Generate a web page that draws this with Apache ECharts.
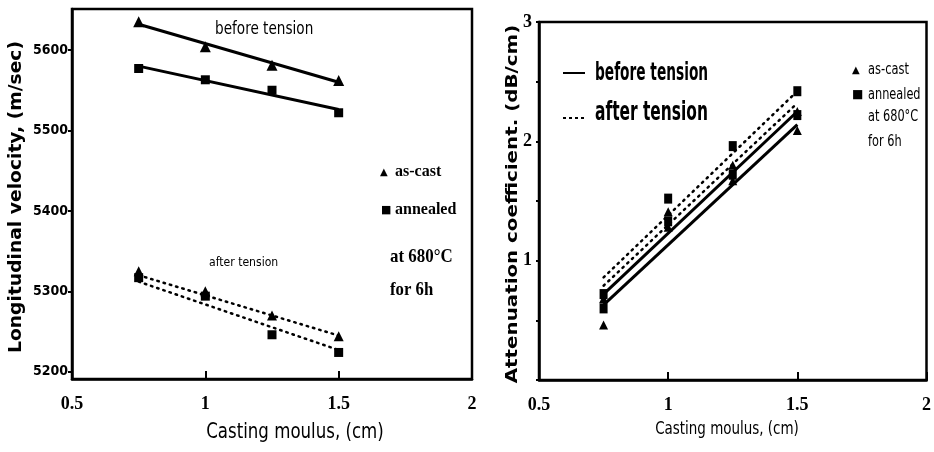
<!DOCTYPE html>
<html>
<head>
<meta charset="utf-8">
<script src="https://cdn.jsdelivr.net/npm/echarts@6/dist/echarts.min.js"></script>
<style>
  html, body { margin: 0; padding: 0; background: #fff; }
  #chart { width: 934px; height: 452px; }
</style>
</head>
<body>
<div id="chart"></div>
<script>
// left panel: longitudinal velocity (m/sec)
const velBeforeCast = [[0.75, 5635], [1, 5604], [1.25, 5581], [1.5, 5562]]
const velBeforeAnnealed = [[0.75, 5577], [1, 5563], [1.25, 5550], [1.5, 5522]]
const velAfterCast = [[0.75, 5325], [1, 5300], [1.25, 5270], [1.5, 5244]]
const velAfterAnnealed = [[0.75, 5317], [1, 5294], [1.25, 5246], [1.5, 5224]]
const velFitBeforeCast = [[0.75, 5632], [1.5, 5560]]
const velFitBeforeAnnealed = [[0.75, 5580], [1.5, 5526]]
const velFitAfterCast = [[0.75, 5320], [1.5, 5245]]
const velFitAfterAnnealed = [[0.75, 5312], [1.5, 5227]]
const velTicks = [5200, 5300, 5400, 5500, 5600]

// right panel: attenuation coefficient (dB/cm)
const attBeforeCast = [[0.75, 0.46], [1, 1.28], [1.25, 1.67], [1.5, 2.09]]
const attAfterCast = [[0.75, 0.68], [1, 1.41], [1.25, 1.80], [1.5, 2.25]]
const attBeforeAnnealed = [[0.75, 0.60], [1, 1.33], [1.25, 1.72], [1.5, 2.22]]
const attAfterAnnealed = [[0.75, 0.72], [1, 1.52], [1.25, 1.96], [1.5, 2.42]]
const attFitBeforeCast = [[0.75, 0.63], [1.5, 2.14]]
const attFitBeforeAnnealed = [[0.75, 0.72], [1.5, 2.25]]
const attFitAfterCast = [[0.75, 0.79], [1.5, 2.32]]
const attFitAfterAnnealed = [[0.75, 0.86], [1.5, 2.42]]
const attTicks = [1, 2, 3]

const narrow = '"DejaVu Sans Condensed", "Liberation Sans", sans-serif'
const serif = '"Liberation Serif", serif'
const heavy = '"DejaVu Sans", sans-serif'

const chart = echarts.init(document.getElementById('chart'))

function fitLine(data, grid, dotted) {
  return {
    type: 'line',
    xAxisIndex: grid,
    yAxisIndex: grid,
    data,
    symbol: 'none',
    silent: true,
    lineStyle: {
      color: '#000',
      opacity: 1,
      width: dotted ? 2.5 : 3,
      type: dotted ? [1.5, 5] : 'solid',
      cap: dotted ? 'round' : 'butt',
    },
    z: 2,
  }
}

function marks(data, grid, shape, size) {
  return {
    type: 'scatter',
    xAxisIndex: grid,
    yAxisIndex: grid,
    data,
    symbol: shape,
    symbolSize: size,
    itemStyle: { color: '#000', opacity: 1 },
    z: 3,
  }
}

function xAxisOf(grid) {
  return {
    type: 'value',
    gridIndex: grid,
    min: 0.5,
    max: 2,
    interval: 0.5,
    axisLine: { show: true, lineStyle: { color: '#000', width: 2.5 } },
    axisTick: { show: true, inside: true, length: 8, lineStyle: { color: '#000', width: 2 } },
    axisLabel: {
      color: '#000',
      fontFamily: serif,
      fontWeight: 'bold',
      fontSize: 18,
      margin: 16,
      showMaxLabel: true,
      formatter: v => String(v),
    },
    splitLine: { show: false },
  }
}

// free text placed by its left edge (or centre) and vertical middle
function txt(x, y, text, font, sx = 1, align = 'left', rotation = 0) {
  return {
    type: 'text',
    x,
    y,
    rotation,
    scaleX: sx,
    style: { text, font, fill: '#000', align, verticalAlign: 'middle' },
  }
}

chart.setOption({
  animation: false,
  grid: [
    { left: 72, top: 9, width: 400, height: 370, show: true, borderColor: '#000', borderWidth: 2.5 },
    { left: 539, top: 22, width: 396, height: 358, show: true, borderColor: '#000', borderWidth: 2.5 },
  ],
  xAxis: [xAxisOf(0), xAxisOf(1)],
  yAxis: [
    {
      type: 'value',
      gridIndex: 0,
      min: 5191,
      max: 5651,
      axisLine: { show: true, lineStyle: { color: '#000', width: 2.5 } },
      axisTick: { show: true, length: 4, customValues: velTicks, lineStyle: { color: '#000', width: 2 } },
      axisLabel: {
        color: '#000',
        fontFamily: narrow,
        fontWeight: 'bold',
        fontSize: 14,
        margin: 4,
        customValues: velTicks,
        formatter: v => String(v),
      },
      splitLine: { show: false },
    },
    {
      type: 'value',
      gridIndex: 1,
      min: 0,
      max: 3,
      interval: 0.5,
      axisLine: { show: true, lineStyle: { color: '#000', width: 2.5 } },
      axisTick: { show: true, length: 3, lineStyle: { color: '#000', width: 2 } },
      axisLabel: {
        color: '#000',
        fontFamily: serif,
        fontWeight: 'bold',
        fontSize: 18,
        margin: 7,
        showMaxLabel: true,
        customValues: attTicks,
      },
      splitLine: { show: false },
    },
  ],
  series: [
    fitLine(velFitBeforeCast, 0, false),
    fitLine(velFitBeforeAnnealed, 0, false),
    fitLine(velFitAfterCast, 0, true),
    fitLine(velFitAfterAnnealed, 0, true),
    marks(velBeforeCast, 0, 'triangle', 11),
    marks(velBeforeAnnealed, 0, 'rect', 9),
    marks(velAfterCast, 0, 'triangle', 10),
    marks(velAfterAnnealed, 0, 'rect', 9),

    fitLine(attFitBeforeCast, 1, false),
    fitLine(attFitBeforeAnnealed, 1, false),
    fitLine(attFitAfterCast, 1, true),
    fitLine(attFitAfterAnnealed, 1, true),
    marks(attBeforeCast, 1, 'triangle', 9),
    marks(attAfterCast, 1, 'triangle', 9),
    marks(attBeforeAnnealed, 1, 'rect', [8, 10]),
    marks(attAfterAnnealed, 1, 'rect', [8, 10]),
  ],
  graphic: [
    // axis titles
    txt(295, 433, 'Casting moulus, (cm)', `21px ${narrow}`, 0.88, 'center'),
    txt(727, 430, 'Casting moulus, (cm)', `17px ${narrow}`, 0.88, 'center'),
    txt(17, 197, 'Longitudinal velocity, (m/sec)', `bold 17px ${heavy}`, 1.1, 'center', Math.PI / 2),
    txt(513, 204, 'Attenuation coefficient. (dB/cm)', `bold 16px ${heavy}`, 1.24, 'center', Math.PI / 2),

    // left panel annotations
    txt(215, 30, 'before tension', `17px ${narrow}`, 0.89),
    txt(209, 263, 'after tension', `13px ${narrow}`, 0.93),
    txt(380, 172, '▲', `10px ${heavy}`),
    txt(395, 172, 'as-cast', `bold 16px ${serif}`),
    txt(381, 210, '■', `11px ${heavy}`),
    txt(395, 210, 'annealed', `bold 16px ${serif}`),
    txt(390, 257, 'at 680°C', `bold 19px ${serif}`, 0.89),
    txt(390, 290, 'for 6h', `bold 19px ${serif}`, 0.88),

    // right panel legend
    { type: 'line', shape: { x1: 563, y1: 73, x2: 585, y2: 73 }, style: { stroke: '#000', lineWidth: 2 } },
    txt(595, 73, 'before tension', `bold 25px ${narrow}`, 0.61),
    { type: 'line', shape: { x1: 563, y1: 118, x2: 585, y2: 118 }, style: { stroke: '#000', lineWidth: 2, lineDash: [3, 3] } },
    txt(595, 113, 'after tension', `bold 26px ${narrow}`, 0.66),
    txt(852, 70, '▲', `10px ${heavy}`),
    txt(868, 70, 'as-cast', `15px ${narrow}`, 0.85),
    txt(852, 95, '■', `12px ${heavy}`),
    txt(868, 95, 'annealed', `15px ${narrow}`, 0.84),
    txt(868, 117, 'at 680°C', `15px ${narrow}`, 0.84),
    txt(868, 142, 'for 6h', `15px ${narrow}`, 0.84),
  ],
})
</script>
</body>
</html>
